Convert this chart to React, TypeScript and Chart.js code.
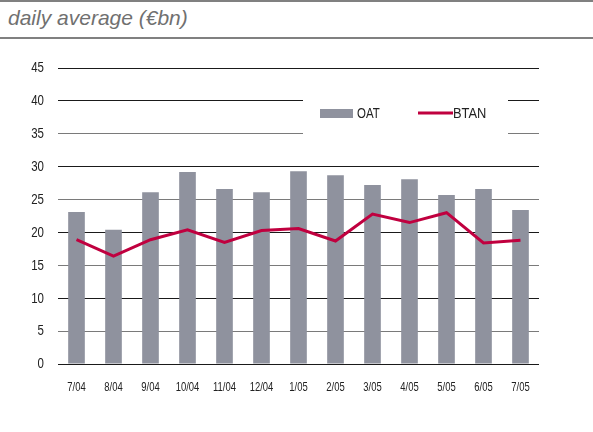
import React, { useEffect, useRef } from "react";
import { Chart, registerables } from "chart.js";

Chart.register(...registerables);

const categories = ["7/04", "8/04", "9/04", "10/04", "11/04", "12/04", "1/05", "2/05", "3/05", "4/05", "5/05", "6/05", "7/05"];
const oatValues = [23.1, 20.4, 26.1, 29.2, 26.6, 26.1, 29.3, 28.7, 27.2, 28.1, 25.7, 26.6, 23.4];
const btanValues = [18.9, 16.4, 18.9, 20.4, 18.5, 20.3, 20.6, 18.7, 22.8, 21.5, 23.0, 18.4, 18.8];
const yTicks = [0, 5, 10, 15, 20, 25, 30, 35, 40, 45];
const seriesNames = ["OAT", "BTAN"];
const titleText = "daily average (€bn)";

const BAR_COLOR = "#8f929e";
const LINE_COLOR = "#c0003f";
const FONT = "'Liberation Sans', Arial, sans-serif";

function squashText(ctx: any, text: string, x: number, y: number, align: "left" | "right" | "center", sx: number) {
  ctx.save();
  ctx.translate(x, y);
  ctx.scale(sx, 1);
  ctx.textAlign = align;
  ctx.textBaseline = "middle";
  ctx.fillText(text, 0, 0);
  ctx.restore();
}

const labelsPlugin = {
  id: "customLabels",
  beforeDatasetsDraw(chart: any) {
    const ctx = chart.ctx;
    ctx.save();
    ctx.fillStyle = "#ffffff";
    ctx.fillRect(303, 55, 205, 45);
    ctx.fillStyle = BAR_COLOR;
    ctx.fillRect(320, 69, 33, 9);
    ctx.fillStyle = "#222";
    ctx.font = "14px " + FONT;
    squashText(ctx, seriesNames[0], 357, 74, "left", 0.82);
    ctx.strokeStyle = LINE_COLOR;
    ctx.lineWidth = 3;
    ctx.beginPath();
    ctx.moveTo(418, 73);
    ctx.lineTo(453, 73);
    ctx.stroke();
    ctx.fillStyle = "#222";
    squashText(ctx, seriesNames[1], 453, 74, "left", 0.92);
    ctx.restore();
  },
  afterDraw(chart: any) {
    const ctx = chart.ctx;
    const xs = chart.scales.x;
    const ys = chart.scales.y;
    ctx.save();
    ctx.fillStyle = "#222";
    ctx.font = "13.5px " + FONT;
    categories.forEach((c, i) => {
      squashText(ctx, c, xs.getPixelForTick(i), 347.5, "center", 0.7);
    });
    ctx.font = "14px " + FONT;
    yTicks.forEach((v) => {
      squashText(ctx, String(v), 44, ys.getPixelForValue(v) + 0.5, "right", 0.82);
    });
    ctx.restore();
  },
};

export default function App() {
  const ref = useRef<HTMLCanvasElement | null>(null);
  useEffect(() => {
    if (!ref.current) return;
    const chart = new Chart(ref.current, {
      type: "bar",
      data: {
        labels: categories,
        datasets: [
          {
            type: "line",
            label: seriesNames[1],
            data: btanValues,
            borderColor: LINE_COLOR,
            backgroundColor: LINE_COLOR,
            borderWidth: 3,
            pointRadius: 0,
            tension: 0,
            order: 0,
          } as any,
          {
            type: "bar",
            label: seriesNames[0],
            data: oatValues,
            backgroundColor: BAR_COLOR,
            barPercentage: 0.9,
            categoryPercentage: 0.5,
            order: 1,
          },
        ],
      },
      options: {
        responsive: false,
        animation: false,
        devicePixelRatio: 1,
        layout: { padding: { top: 28, right: 54, left: 0, bottom: 0 } },
        plugins: { legend: { display: false }, tooltip: { enabled: false } },
        scales: {
          x: {
            grid: { display: false, drawTicks: false },
            border: { display: false },
            ticks: { display: false },
            afterFit(scale: any) {
              scale.height = 68;
            },
          },
          y: {
            min: 0,
            max: 45,
            afterBuildTicks(scale: any) {
              scale.ticks = yTicks.map((v) => ({ value: v }));
            },
            grid: {
              drawTicks: false,
              color: (c: any) => (c.tick && (c.tick.value % 10 === 0 || c.tick.value === 45)) ? "#1a1a1a" : "#7a7a7a",
              lineWidth: 1,
            },
            border: { display: false },
            ticks: { display: false },
            afterFit(scale: any) {
              scale.width = 58;
            },
          },
        },
      },
      plugins: [labelsPlugin],
    });
    return () => chart.destroy();
  }, []);

  return (
    <div style={{ position: "absolute", left: 0, top: 0, width: 593, height: 432, background: "#fff", overflow: "hidden" }}>
      <div style={{ position: "absolute", left: 0, top: 0, width: 593, height: 2, background: "#808080" }} />
      <div
        style={{
          position: "absolute",
          left: 8,
          top: 6,
          fontFamily: FONT,
          fontStyle: "italic",
          fontSize: 21,
          color: "#707070",
          lineHeight: "24px",
          whiteSpace: "nowrap",
        }}
      >
        {titleText}
      </div>
      <div style={{ position: "absolute", left: 0, top: 37, width: 593, height: 2, background: "#808080" }} />
      <canvas ref={ref} width={593} height={392} style={{ position: "absolute", left: 0, top: 40, width: 593, height: 392 }} />
    </div>
  );
}
